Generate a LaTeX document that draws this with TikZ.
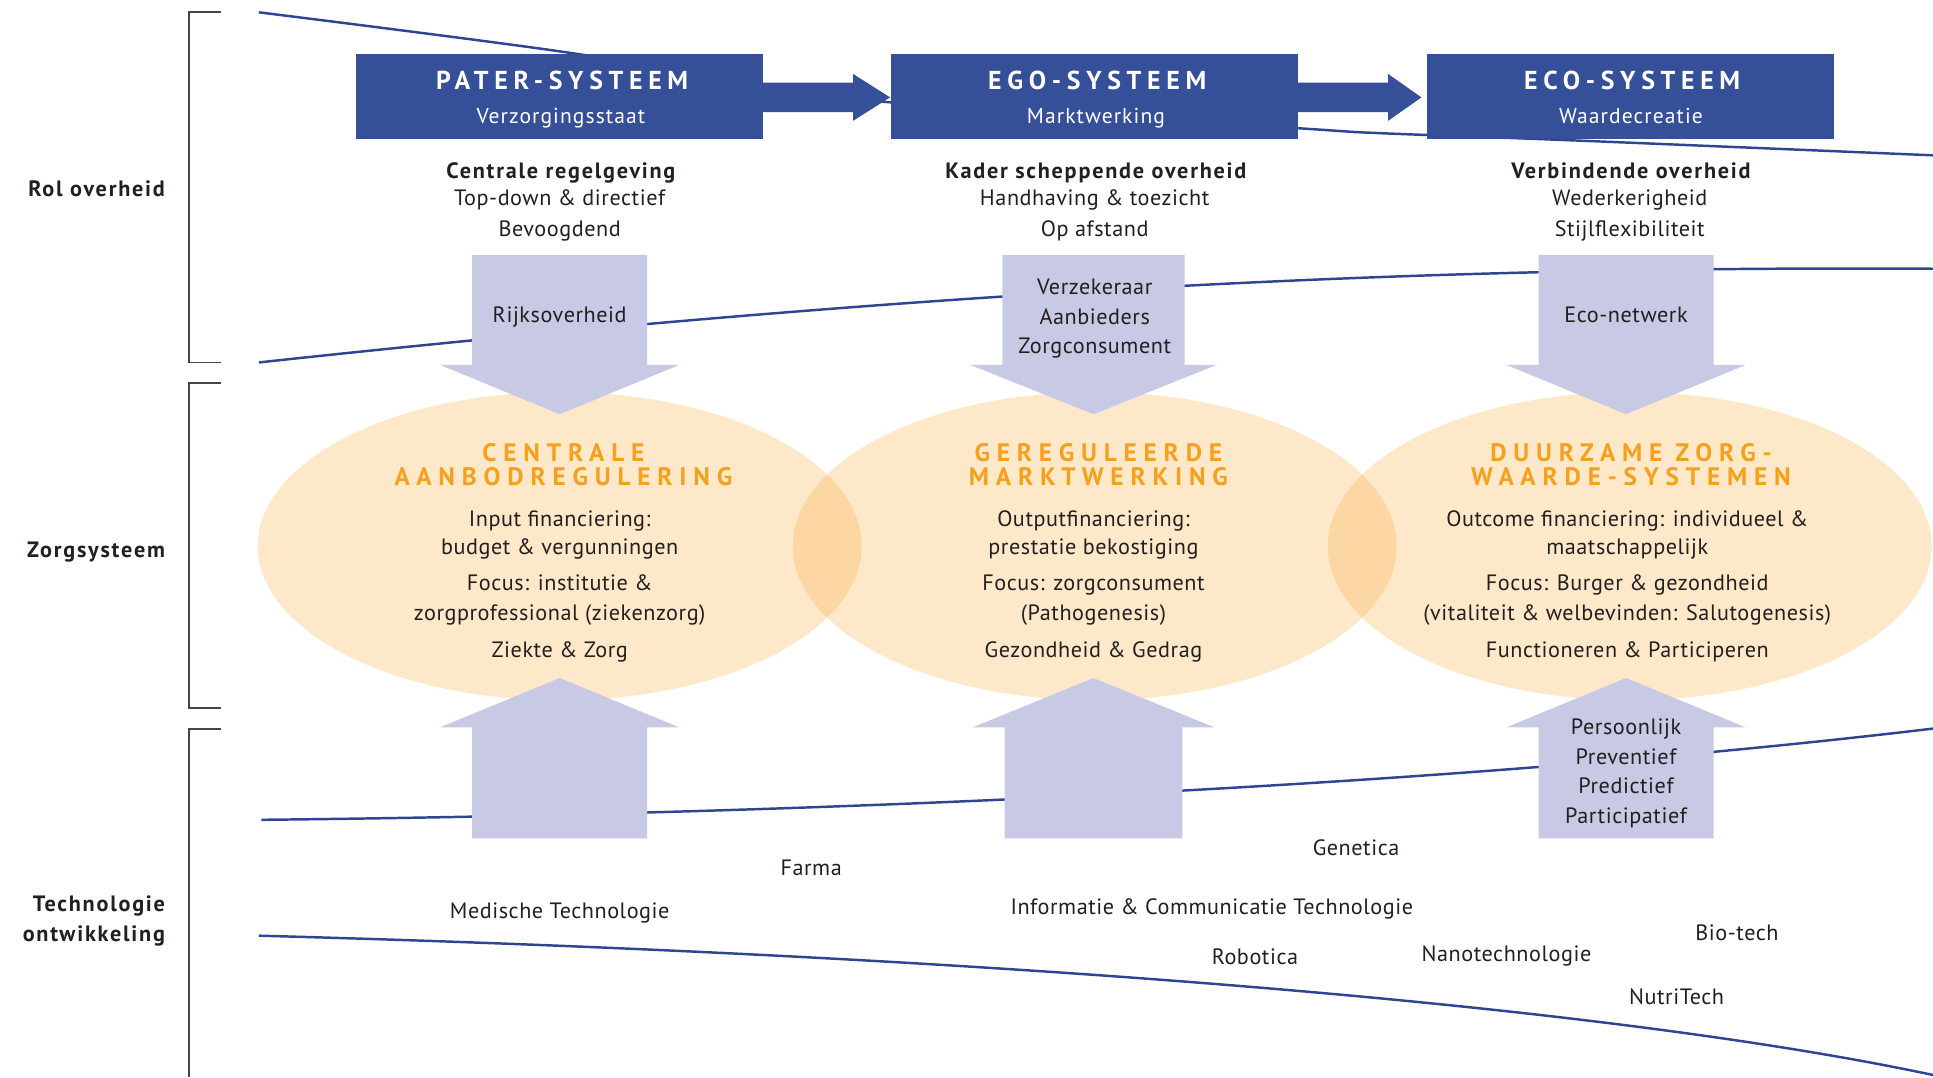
\documentclass[tikz,border=0pt]{standalone}
\usepackage{fontspec}
\usetikzlibrary{shapes.geometric}
\setmainfont{PT Sans}[LetterSpace=2.5]
\newfontfamily\bodybold{PT Sans}[LetterSpace=8]
\newfontfamily\boxtitlefont{PT Sans}[LetterSpace=22]
\newfontfamily\elltitlefont{PT Sans}[LetterSpace=27]
\newfontfamily\subfont{PT Sans}[LetterSpace=5]
\definecolor{boxblue}{RGB}{53,79,152}
\definecolor{lineblue}{RGB}{46,70,146}
\definecolor{lav}{RGB}{200,201,228}
\definecolor{ellorange}{RGB}{249,178,75}
\definecolor{titleorange}{RGB}{246,160,30}
\definecolor{ink}{RGB}{35,31,32}
\definecolor{brk}{RGB}{70,70,70}
\newcommand\DownBlk[3]{\fill[lav] ({#1-#2},207) -- ({#1+#2},207) -- ({#1+#2},296) -- ({#1+#3},296) -- (#1,336) -- ({#1-#3},296) -- ({#1-#2},296) -- cycle;}
\newcommand\UpBlk[3]{\fill[lav] ({#1-#2},680) -- ({#1+#2},680) -- ({#1+#2},590) -- ({#1+#3},590) -- (#1,550) -- ({#1-#3},590) -- ({#1-#2},590) -- cycle;}
\newcommand\RightBlk[2]{\fill[boxblue] (#1,67) -- ({#1+77},67) -- ({#1+77},60) -- (#2,79) -- ({#1+77},98) -- ({#1+77},91) -- (#1,91) -- cycle;}
\begin{document}
\begin{tikzpicture}[x=1pt,y=-1pt,
  txt/.style={inner sep=0pt, anchor=base, text=ink, font=\fontsize{18}{22}\selectfont},
  btxt/.style={inner sep=0pt, anchor=base, text=ink, font=\fontsize{18}{22}\bodybold\bfseries},
  lbl/.style={btxt, anchor=base east},
  boxtitle/.style={inner sep=0pt, anchor=base, text=white, font=\fontsize{21}{22}\boxtitlefont\bfseries},
  boxsub/.style={inner sep=0pt, anchor=base, text=white, font=\fontsize{17.5}{22}\subfont},
  elltitle/.style={inner sep=0pt, anchor=base, text=titleorange, font=\fontsize{20.5}{20}\elltitlefont\bfseries},
  sysbox/.style={fill=boxblue, draw=none, minimum width=330pt, minimum height=69pt, inner sep=0pt},
  ell/.style={ellipse, fill=ellorange, fill opacity=0.3, draw=none, minimum width=490pt, minimum height=250pt, inner sep=0pt},
  blueline/.style={draw=lineblue, line width=2pt},
  bracket/.style={draw=brk, line width=1.5pt}
]
\useasboundingbox (0,0) rectangle (1568,874);

% brackets
\draw[bracket] (179,10) -- (153,10) -- (153,294) -- (179,294);
\draw[bracket] (179,311) -- (153,311) -- (153,574) -- (179,574);
\draw[bracket] (179,591) -- (153,591) -- (153,874);
\node[lbl] (lrol) at (134,159.5) {Rol overheid};
\node[lbl] (lzorg) at (134,452) {Zorgsysteem};
\node[lbl] (ltech1) at (134,739) {Technologie};
\node[lbl] (ltech2) at (134,764) {ontwikkeling};

% blue curves
\draw[blueline] plot[smooth, tension=0.5] coordinates {(210,10) (470,44) (650,77) (1053,104) (1119,108) (1279,114) (1568,126)};
\draw[blueline] (210,294) .. controls (800,230) and (1200,216) .. (1568,218);
\draw[blueline] (212,665) .. controls (700,660) and (1200,635) .. (1568,591);
\draw[blueline] (210,759) .. controls (800,775) and (1300,815) .. (1568,872);

% ellipses
\node[ell] (e1) at (454,443) {};
\node[ell] (e2) at (888,443) {};
\node[ell] (e3) at (1322,443) {};

% block arrows
\DownBlk{454}{71}{97}
\DownBlk{887}{74}{100}
\DownBlk{1319}{71}{97}
\UpBlk{454}{71}{97}
\UpBlk{887}{72}{98}
\UpBlk{1319}{71}{97}
\RightBlk{615}{722}
\RightBlk{1049}{1153}

% system boxes
\node[sysbox] (pater) at (454,78.5) {};
\node[sysbox] (ego) at (888,78.5) {};
\node[sysbox] (eco) at (1322.5,78.5) {};
\node[boxtitle] (paterT) at (456,73) {PATER-SYSTEEM};
\node[boxsub] (paterS) at (455,100) {Verzorgingsstaat};
\node[boxtitle] (egoT) at (890,73) {EGO-SYSTEEM};
\node[boxsub] (egoS) at (889,100) {Marktwerking};
\node[boxtitle] (ecoT) at (1324,73) {ECO-SYSTEEM};
\node[boxsub] (ecoS) at (1323,100) {Waardecreatie};

% role texts
\node[btxt] (r1a) at (455,144.5) {Centrale regelgeving};
\node[txt] (r1b) at (454,167) {Top-down \& directief};
\node[txt] (r1c) at (454,191.5) {Bevoogdend};
\node[btxt] (r2a) at (889,144.5) {Kader scheppende overheid};
\node[txt] (r2b) at (888,167) {Handhaving \& toezicht};
\node[txt] (r2c) at (888,191.5) {Op afstand};
\node[btxt] (r3a) at (1323,144.5) {Verbindende overheid};
\node[txt] (r3b) at (1322,167) {Wederkerigheid};
\node[txt] (r3c) at (1322,191.5) {Stijlflexibiliteit};

% down arrow texts
\node[txt] (d1) at (454,262) {Rijksoverheid};
\node[txt] (d2a) at (888,239) {Verzekeraar};
\node[txt] (d2b) at (888,263) {Aanbieders};
\node[txt] (d2c) at (888,287) {Zorgconsument};
\node[txt] (d3) at (1319,262) {Eco-netwerk};

% ellipse titles
\node[elltitle] (t1a) at (457,374) {CENTRALE};
\node[elltitle] (t1b) at (457,394) {AANBODREGULERING};
\node[elltitle] (t2a) at (891,374) {GEREGULEERDE};
\node[elltitle] (t2b) at (891,394) {MARKTWERKING};
\node[elltitle] (t3a) at (1323,374) {DUURZAME ZORG-};
\node[elltitle] (t3b) at (1323,394) {WAARDE-SYSTEMEN};

% ellipse body
\node[txt] (b1a) at (454,427) {Input financiering:};
\node[txt] (b1b) at (454,450) {budget \& vergunningen};
\node[txt] (b1c) at (454,479) {Focus: institutie \&};
\node[txt] (b1d) at (454,503) {zorgprofessional (ziekenzorg)};
\node[txt] (b1e) at (454,533) {Ziekte \& Zorg};
\node[txt] (b2a) at (887,427) {Outputfinanciering:};
\node[txt] (b2b) at (887,450) {prestatie bekostiging};
\node[txt] (b2c) at (887,479) {Focus: zorgconsument};
\node[txt] (b2d) at (887,503) {(Pathogenesis)};
\node[txt] (b2e) at (887,533) {Gezondheid \& Gedrag};
\node[txt] (b3a) at (1320,427) {Outcome financiering: individueel \&};
\node[txt] (b3b) at (1320,450) {maatschappelijk};
\node[txt] (b3c) at (1320,479) {Focus: Burger \& gezondheid};
\node[txt] (b3d) at (1320,503) {(vitaliteit \& welbevinden: Salutogenesis)};
\node[txt] (b3e) at (1320,533) {Functioneren \& Participeren};

% up arrow texts
\node[txt] (u3a) at (1319,596) {Persoonlijk};
\node[txt] (u3b) at (1319,620) {Preventief};
\node[txt] (u3c) at (1319,644) {Predictief};
\node[txt] (u3d) at (1319,668) {Participatief};

% technologies
\node[txt] (medtech) at (454,745) {Medische Technologie};
\node[txt] (farma) at (658,710) {Farma};
\node[txt] (genetica) at (1100,694) {Genetica};
\node[txt] (ict) at (983,742) {Informatie \& Communicatie Technologie};
\node[txt] (robotica) at (1018,782) {Robotica};
\node[txt] (nano) at (1222,780) {Nanotechnologie};
\node[txt] (biotech) at (1409,763) {Bio-tech};
\node[txt] (nutri) at (1360,815) {NutriTech};
\end{tikzpicture}
\end{document}
